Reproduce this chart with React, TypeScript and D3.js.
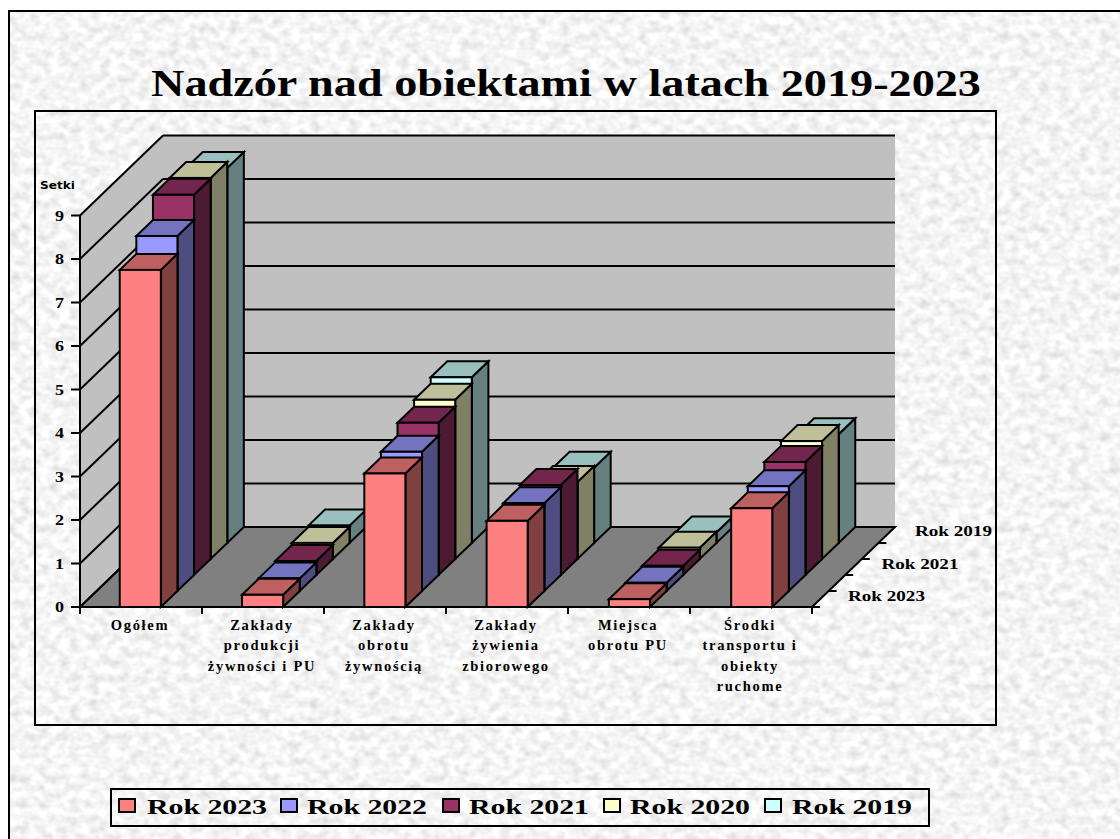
import * as d3 from 'd3';

const categories = [
  ['Ogółem'],
  ['Zakłady', 'produkcji', 'żywności i PU'],
  ['Zakłady', 'obrotu', 'żywnością'],
  ['Zakłady', 'żywienia', 'zbiorowego'],
  ['Miejsca', 'obrotu PU'],
  ['Środki', 'transportu i', 'obiekty', 'ruchome'],
];
const categoryIds = categories.map((c) => c.join(' '));

const seriesNames = ['Rok 2023', 'Rok 2022', 'Rok 2021', 'Rok 2020', 'Rok 2019'];
const depthLabels = ['Rok 2023', 'Rok 2021', 'Rok 2019'];
const yTicks = [0, 1, 2, 3, 4, 5, 6, 7, 8, 9];

const rok2023 = [7.75, 0.28, 3.07, 1.98, 0.18, 2.27];
const rok2022 = [8.16, 0.29, 3.2, 2.02, 0.19, 2.41];
const rok2021 = [8.74, 0.32, 3.5, 2.07, 0.21, 2.6];
const rok2020 = [8.76, 0.37, 3.66, 1.77, 0.26, 2.71];
const rok2019 = [8.62, 0.4, 3.81, 1.73, 0.24, 2.5];
const seriesValues = [rok2023, rok2022, rok2021, rok2020, rok2019];

const frontColors = ['#FF8080', '#9999FF', '#993366', '#FFFFCC', '#CCFFFF'];
const topColors = ['#BF6060', '#7373BF', '#73264D', '#BFBF99', '#99BFBF'];
const sideColors = ['#804040', '#4D4D80', '#4D1A33', '#808066', '#668080'];

// legend entries: swatch left, text left
const legendSwatch = [119, 281, 443, 604, 765];
const legendText = [147, 307, 469, 630, 792];

const serif = '"Liberation Serif", "Times New Roman", serif';

const left = 80;
const right = 812;
const floorY = 607;
const topY = 215.5;

// oblique projection of the depth axis
const depthX = d3.scaleLinear().domain([0, 5]).range([0, 83]);
const depthY = d3.scaleLinear().domain([0, 5]).range([0, 80]);

const x = d3.scaleBand().domain(categoryIds).range([left, right]).paddingInner(0.664).paddingOuter(0.325);
const xEdge = d3.scaleLinear().domain([0, categories.length]).range([left, right]);
const y = d3.scaleLinear().domain([0, 9]).range([floorY, topY]);

const poly = (pts: number[][]) => d3.line()(pts as [number, number][]) + 'Z';

function Bar({ cat, s, value }: { cat: number; s: number; value: number }) {
  const x0 = x(categoryIds[cat])! + depthX(s);
  const x1 = x0 + x.bandwidth();
  const yBase = floorY - depthY(s);
  const yTop = yBase - (floorY - y(value));
  const dx = depthX(s + 1) - depthX(s);
  const dy = depthY(s + 1) - depthY(s);
  return (
    <g stroke="#000" strokeWidth={2} strokeLinejoin="miter">
      <path d={poly([[x1, yTop], [x1 + dx, yTop - dy], [x1 + dx, yBase - dy], [x1, yBase]])} fill={sideColors[s]} />
      <path d={poly([[x0, yTop], [x0 + dx, yTop - dy], [x1 + dx, yTop - dy], [x1, yTop]])} fill={topColors[s]} />
      <rect x={x0} y={yTop} width={x.bandwidth()} height={yBase - yTop} fill={frontColors[s]} />
    </g>
  );
}

export default function App() {
  const d = depthX(5);
  const h = depthY(5);
  // back series first so the nearer ones paint over them
  const drawOrder = d3.range(seriesNames.length).reverse();

  return (
    <svg
      width={1120}
      height={839}
      style={{ position: 'absolute', left: 0, top: 0, background: '#fff' }}
      fontFamily={serif}
      fontWeight="bold"
    >
      <defs>
        <filter id="marble" x="0" y="0" width="100%" height="100%">
          <feTurbulence type="fractalNoise" baseFrequency="0.1 0.12" numOctaves={2} seed={7} />
          <feColorMatrix
            type="matrix"
            values="0.5 0 0 0 0.66  0.5 0 0 0 0.66  0.5 0 0 0 0.66  0 0 0 0 1"
          />
        </filter>
      </defs>

      <rect x={9} y={11} width={1111} height={828} filter="url(#marble)" />
      <path d="M9,839V11H1120" fill="none" stroke="#000" strokeWidth={2} />

      <text x={566} y={96} textAnchor="middle" fontSize={37} textLength={830} lengthAdjust="spacingAndGlyphs">
        Nadzór nad obiektami w latach 2019-2023
      </text>

      <rect x={35} y={111} width={961} height={614} fill="none" stroke="#000" strokeWidth={2} />

      {/* walls and floor */}
      <path d={poly([[left, floorY], [left + d, floorY - h], [left + d, y(9) - h], [left, y(9)]])} fill="#C0C0C0" />
      <rect x={left + d} y={y(9) - h} width={right - left} height={floorY - y(9)} fill="#C0C0C0" />
      <path d={poly([[left, floorY], [right, floorY], [right + d, floorY - h], [left + d, floorY - h]])} fill="#808080" stroke="#000" strokeWidth={2} />
      {yTicks.map((t) => (
        <g key={t} stroke="#000" strokeWidth={2} fill="none">
          <path d={`M${left},${y(t)}L${left + d},${y(t) - h}`} />
          <path d={`M${left + d},${y(t) - h}H${right + d}`} />
          <path d={`M${left - 9},${y(t)}H${left}`} />
        </g>
      ))}
      <path d={`M${left},${y(9)}V${floorY}`} stroke="#000" strokeWidth={2} />

      {/* category ticks */}
      {d3.range(categories.length + 1).map((i) => (
        <path key={i} d={`M${xEdge(i)},${floorY}v7`} stroke="#000" strokeWidth={2} />
      ))}
      <path d={`M${left},${floorY}H${right + 8}`} stroke="#000" strokeWidth={2} />

      {/* depth ticks */}
      {d3.range(1, 5).map((i) => (
        <path
          key={i}
          d={`M${right + depthX(i)},${floorY - depthY(i)}h8`}
          stroke="#000"
          strokeWidth={2}
        />
      ))}

      {/* bars */}
      {drawOrder.map((s) => (
        <g key={s}>
          {seriesValues[s].map((v, c) => (
            <Bar key={c} cat={c} s={s} value={v} />
          ))}
        </g>
      ))}

      {/* labels */}
      <text x={40} y={189} fontSize={11} fontFamily='"DejaVu Sans", sans-serif' textLength={35} lengthAdjust="spacingAndGlyphs">
        Setki
      </text>
      {yTicks.map((t) => (
        <text key={t} x={64} y={y(t) + 5} textAnchor="end" fontSize={15} textLength={9} lengthAdjust="spacingAndGlyphs">
          {t}
        </text>
      ))}
      {categories.map((lines, c) =>
        lines.map((line, j) => (
          <text
            key={j}
            x={(xEdge(c) + xEdge(c + 1)) / 2 - 1}
            y={630 + j * 20.3}
            textAnchor="middle"
            fontSize={14.5}
            letterSpacing={1.7}
          >
            {line}
          </text>
        )),
      )}
      {depthLabels.map((label, i) => (
        <text key={label} x={848 + i * 33.5} y={601 - i * 32.5} fontSize={14.5} textLength={77} lengthAdjust="spacingAndGlyphs">
          {label}
        </text>
      ))}

      {/* legend */}
      <rect x={111} y={789} width={818} height={37} fill="none" stroke="#000" strokeWidth={2} />
      {seriesNames.map((name, s) => (
        <g key={name}>
          <rect x={legendSwatch[s]} y={799} width={16} height={13} fill={frontColors[s]} stroke="#000" strokeWidth={2} />
          <text x={legendText[s]} y={814} fontSize={22} textLength={120} lengthAdjust="spacingAndGlyphs">
            {name}
          </text>
        </g>
      ))}
    </svg>
  );
}
